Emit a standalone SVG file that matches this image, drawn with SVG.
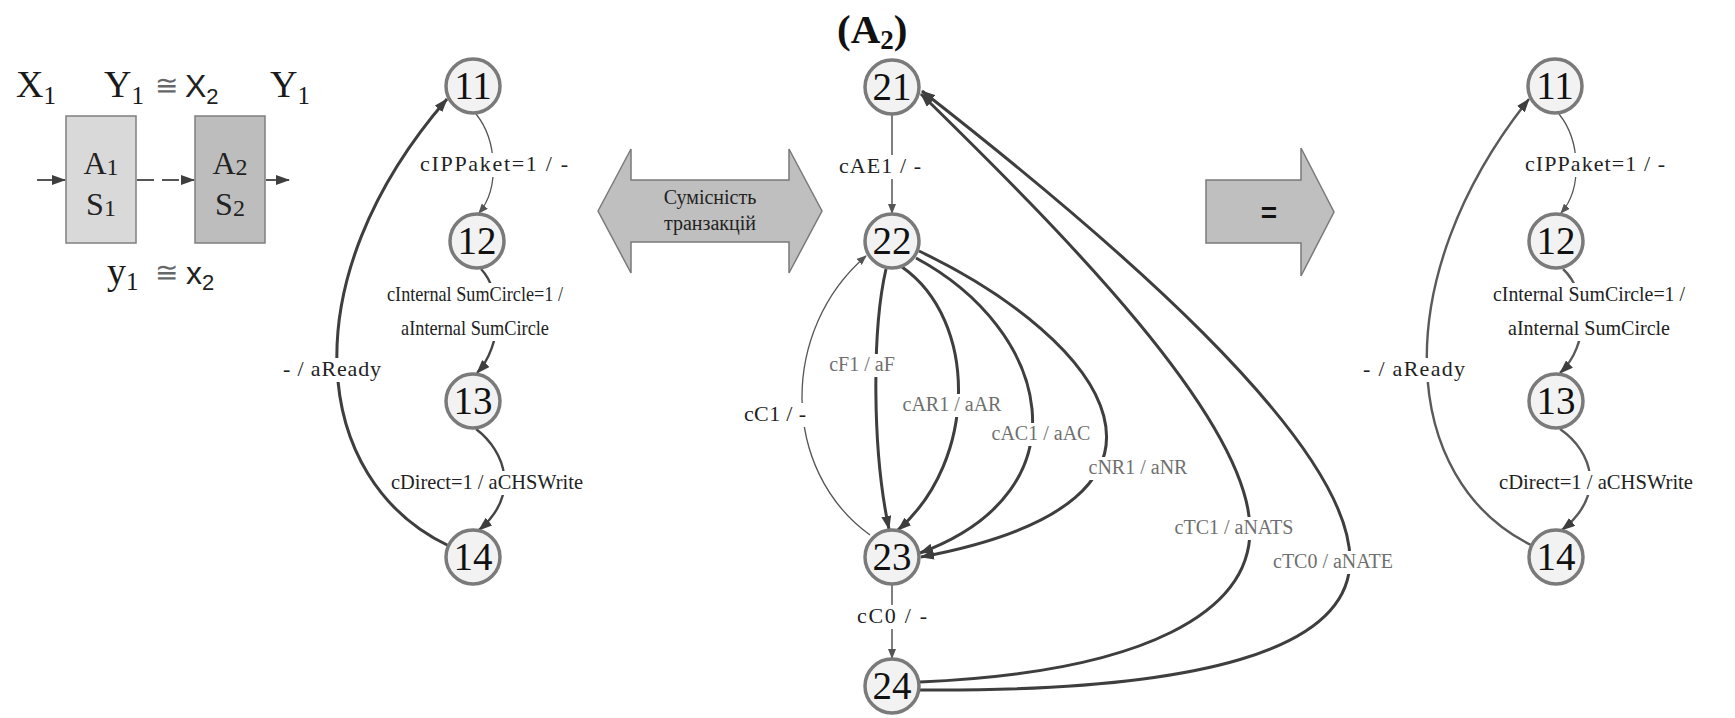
<svg xmlns="http://www.w3.org/2000/svg" width="1735" height="718" viewBox="0 0 1735 718">
  <defs>
    <style>
      .serif { font-family: "Liberation Serif", "Times New Roman", serif; }
      .sans { font-family: "Liberation Sans", Arial, sans-serif; }
      .node circle { fill: #f2f2f2; stroke: #7a7a7a; stroke-width: 3.5; }
      .node text { font-family: "Liberation Serif", "Times New Roman", serif; font-size: 39px; text-anchor: middle; fill: #111; }
      .lbl { font-family: "Liberation Serif", "Times New Roman", serif; font-size: 20px; text-anchor: middle; fill: #222; }
      .lbl.k { font-size: 22px; }
      .lbl.g { fill: #6f6f6f; }
      .bg { fill: #ffffff; }
      .thick { fill: none; stroke: #3e3e3e; stroke-width: 3; }
      .mid { fill: none; stroke: #454545; stroke-width: 2.4; }
      .soft { fill: none; stroke: #5a5a5a; stroke-width: 2.4; }
      .thin { fill: none; stroke: #555; stroke-width: 1.3; }
      .grey { fill: none; stroke: #808080; stroke-width: 2; }
      .big { font-family: "Liberation Serif", "Times New Roman", serif; font-size: 38px; fill: #1a1a1a; }
      .shape { fill: #bfbfbf; stroke: #7a7a7a; stroke-width: 1.5; }
    </style>
    <marker id="ah" viewBox="0 0 14 10" refX="13" refY="5" markerWidth="14" markerHeight="10" markerUnits="userSpaceOnUse" orient="auto">
      <path d="M0,0 L14,5 L0,10 z" fill="#3e3e3e"/>
    </marker>
    <marker id="ahs" viewBox="0 0 10 8" refX="9" refY="4" markerWidth="10" markerHeight="8" markerUnits="userSpaceOnUse" orient="auto">
      <path d="M0,0 L10,4 L0,8 z" fill="#555"/>
    </marker>
  </defs>

  <rect width="1735" height="718" fill="#ffffff"/>

  <!-- composition block: A1 followed by A2 -->
  <g id="composition">
    <text class="big" x="16" y="97">X<tspan font-size="25" dy="7">1</tspan></text>
    <text class="big" x="104" y="97">Y<tspan font-size="25" dy="7">1</tspan></text>
    <text class="serif" x="166" y="95" text-anchor="middle" font-size="28" fill="#666">≅</text>
    <text class="sans" x="185" y="97" font-size="32" fill="#222">X<tspan font-size="22" dy="7">2</tspan></text>
    <text class="big" x="270" y="97">Y<tspan font-size="25" dy="7">1</tspan></text>

    <rect x="66" y="116" width="70" height="127" fill="#d9d9d9" stroke="#7f7f7f" stroke-width="1.5"/>
    <rect x="195" y="116" width="70" height="127" fill="#bdbdbd" stroke="#7f7f7f" stroke-width="1.5"/>
    <text class="serif" x="101" y="174" font-size="32" text-anchor="middle" fill="#222">A<tspan font-size="24" dy="1">1</tspan></text>
    <text class="serif" x="101" y="215" font-size="32" text-anchor="middle" fill="#222">S<tspan font-size="24" dy="1">1</tspan></text>
    <text class="serif" x="230" y="174" font-size="32" text-anchor="middle" fill="#222">A<tspan font-size="24" dy="1">2</tspan></text>
    <text class="serif" x="230" y="215" font-size="32" text-anchor="middle" fill="#222">S<tspan font-size="24" dy="1">2</tspan></text>

    <path d="M37,180 L65,180" fill="none" stroke="#555" stroke-width="2" marker-end="url(#ah)"/>
    <path d="M137,180 L194,180" fill="none" stroke="#555" stroke-width="2" stroke-dasharray="17 8" marker-end="url(#ah)"/>
    <path d="M266,180 L289,180" fill="none" stroke="#555" stroke-width="2" marker-end="url(#ah)"/>

    <text class="big" x="107" y="284">y<tspan font-size="25" dy="6">1</tspan></text>
    <text class="serif" x="166" y="282" text-anchor="middle" font-size="28" fill="#666">≅</text>
    <text class="sans" x="186" y="284" font-size="32" fill="#222">x<tspan font-size="22" dy="6">2</tspan></text>
  </g>

  <!-- compatibility arrow -->
  <g id="compat-arrow">
    <polygon class="shape" points="598,211 631,149 631,180 789,180 789,149 822,211 789,273 789,242 631,242 631,273"/>
    <text class="lbl" x="710" y="204" font-size="23">Сумісність</text>
    <text class="lbl" x="710" y="230" font-size="23">транзакцій</text>
  </g>

  <!-- equivalence arrow -->
  <g id="equal-arrow">
    <polygon class="shape" points="1206,180 1301,180 1301,148 1334,212 1301,276 1301,243 1206,243"/>
    <text class="sans" x="1269" y="222" font-size="28" font-weight="bold" text-anchor="middle" fill="#111">=</text>
  </g>

  <!-- (A2) title -->
  <text class="serif" x="837" y="43" font-size="41" font-weight="bold" fill="#111">(A<tspan font-size="27" dy="6">2</tspan><tspan dy="-6">)</tspan></text>

  <!-- connectors -->
  <g id="connectors">
    <!-- left graph -->
    <path class="thin" d="M476,114 C497,140 500,188 479,213" marker-end="url(#ahs)"/>
    <path class="mid" d="M481,269 C503,292 503,345 477,373" marker-end="url(#ah)"/>
    <path class="mid" d="M476,429 C506,452 520,495 479,530" marker-end="url(#ah)"/>
    <path class="thick" d="M449,546 C310,480 290,280 447,99" marker-end="url(#ah)"/>

    <!-- middle graph -->
    <path class="grey" d="M892,114 L892,213" marker-end="url(#ahs)"/>
    <path class="thick" d="M886,269 C872,330 872,450 889,529" marker-end="url(#ah)"/>
    <path class="thick" d="M902,267 C978,320 978,460 898,530" marker-end="url(#ah)"/>
    <path class="thick" d="M916,258 C1050,330 1090,490 920,553" marker-end="url(#ah)"/>
    <path class="thick" d="M919,251 C1105,340 1225,500 921,557" marker-end="url(#ah)"/>
    <path class="thin" d="M870,535 C780,470 780,330 866,256" marker-end="url(#ahs)"/>
    <path class="grey" d="M892,585 L892,658" marker-end="url(#ahs)"/>
    <path class="thick" d="M920,682 C1150,672 1250,610 1250,530 C1250,420 1060,230 921,94" marker-end="url(#ah)"/>
    <path class="thick" d="M920,690 C1200,692 1350,650 1350,560 C1350,440 1100,230 922,91" marker-end="url(#ah)"/>

    <!-- right graph -->
    <path class="thin" d="M1559,114 C1580,140 1583,188 1561,213" marker-end="url(#ahs)"/>
    <path class="soft" d="M1563,269 C1588,292 1590,345 1560,373" marker-end="url(#ah)"/>
    <path class="soft" d="M1560,429 C1593,452 1606,495 1562,530" marker-end="url(#ah)"/>
    <path class="soft" d="M1531,545 C1400,480 1385,280 1529,99" marker-end="url(#ah)"/>

    <!-- label backgrounds and labels -->
    <rect class="bg" x="416" y="153" width="156" height="24"/>
    <text class="lbl k" x="494" y="171" textLength="148">cIPPaket=1 / -</text>
    <rect class="bg" x="385" y="283" width="180" height="58"/>
    <text class="lbl k" x="475" y="301" textLength="176" lengthAdjust="spacingAndGlyphs">cInternal SumCircle=1 /</text>
    <text class="lbl k" x="475" y="335" textLength="148" lengthAdjust="spacingAndGlyphs">aInternal SumCircle</text>
    <rect class="bg" x="388" y="471" width="198" height="24"/>
    <text class="lbl k" x="487" y="489" textLength="192" lengthAdjust="spacingAndGlyphs">cDirect=1 / aCHSWrite</text>
    <rect class="bg" x="280" y="358" width="104" height="24"/>
    <text class="lbl k" x="332" y="376" textLength="98">- / aReady</text>

    <rect class="bg" x="836" y="155" width="88" height="24"/>
    <text class="lbl k" x="880" y="173" textLength="82">cAE1 / -</text>
    <rect class="bg" x="828" y="354" width="68" height="23"/>
    <text class="lbl g" x="862" y="371">cF1 / aF</text>
    <rect class="bg" x="905" y="394" width="94" height="23"/>
    <text class="lbl g" x="952" y="411">cAR1 / aAR</text>
    <rect class="bg" x="994" y="423" width="94" height="23"/>
    <text class="lbl g" x="1041" y="440">cAC1 / aAC</text>
    <rect class="bg" x="1090" y="457" width="96" height="23"/>
    <text class="lbl g" x="1138" y="474">cNR1 / aNR</text>
    <rect class="bg" x="1172" y="517" width="124" height="23"/>
    <text class="lbl g" x="1234" y="534">cTC1 / aNATS</text>
    <rect class="bg" x="1270" y="551" width="126" height="23"/>
    <text class="lbl g" x="1333" y="568">cTC0 / aNATE</text>
    <rect class="bg" x="742" y="403" width="66" height="24"/>
    <text class="lbl k" x="775" y="421" textLength="62">cC1 / -</text>
    <rect class="bg" x="854" y="605" width="76" height="24"/>
    <text class="lbl k" x="892" y="623" textLength="70">cC0 / -</text>

    <rect class="bg" x="1522" y="153" width="146" height="24"/>
    <text class="lbl k" x="1595" y="171" textLength="140">cIPPaket=1 / -</text>
    <rect class="bg" x="1491" y="283" width="196" height="58"/>
    <text class="lbl k" x="1589" y="301" textLength="192" lengthAdjust="spacingAndGlyphs">cInternal SumCircle=1 /</text>
    <text class="lbl k" x="1589" y="335" textLength="162" lengthAdjust="spacingAndGlyphs">aInternal SumCircle</text>
    <rect class="bg" x="1497" y="471" width="198" height="24"/>
    <text class="lbl k" x="1596" y="489" textLength="194" lengthAdjust="spacingAndGlyphs">cDirect=1 / aCHSWrite</text>
    <rect class="bg" x="1360" y="358" width="108" height="24"/>
    <text class="lbl k" x="1414" y="376" textLength="102">- / aReady</text>
  </g>

  <!-- left state graph (A1) -->
  <g id="n11" class="node"><circle cx="473" cy="86" r="27"/><text x="473" y="99">11</text></g>
  <g id="n12" class="node"><circle cx="477" cy="241" r="27"/><text x="477" y="254">12</text></g>
  <g id="n13" class="node"><circle cx="473" cy="401" r="27"/><text x="473" y="414">13</text></g>
  <g id="n14" class="node"><circle cx="473" cy="557" r="27"/><text x="473" y="570">14</text></g>

  <!-- middle state graph (A2) -->
  <g id="n21" class="node"><circle cx="892" cy="87" r="27"/><text x="892" y="100">21</text></g>
  <g id="n22" class="node"><circle cx="892" cy="241" r="27"/><text x="892" y="254">22</text></g>
  <g id="n23" class="node"><circle cx="892" cy="557" r="27"/><text x="892" y="570">23</text></g>
  <g id="n24" class="node"><circle cx="892" cy="686" r="27"/><text x="892" y="699">24</text></g>

  <!-- resulting state graph -->
  <g id="r11" class="node"><circle cx="1555" cy="86" r="27"/><text x="1555" y="99">11</text></g>
  <g id="r12" class="node"><circle cx="1556" cy="241" r="27"/><text x="1556" y="254">12</text></g>
  <g id="r13" class="node"><circle cx="1556" cy="401" r="27"/><text x="1556" y="414">13</text></g>
  <g id="r14" class="node"><circle cx="1556" cy="557" r="27"/><text x="1556" y="570">14</text></g>
</svg>
